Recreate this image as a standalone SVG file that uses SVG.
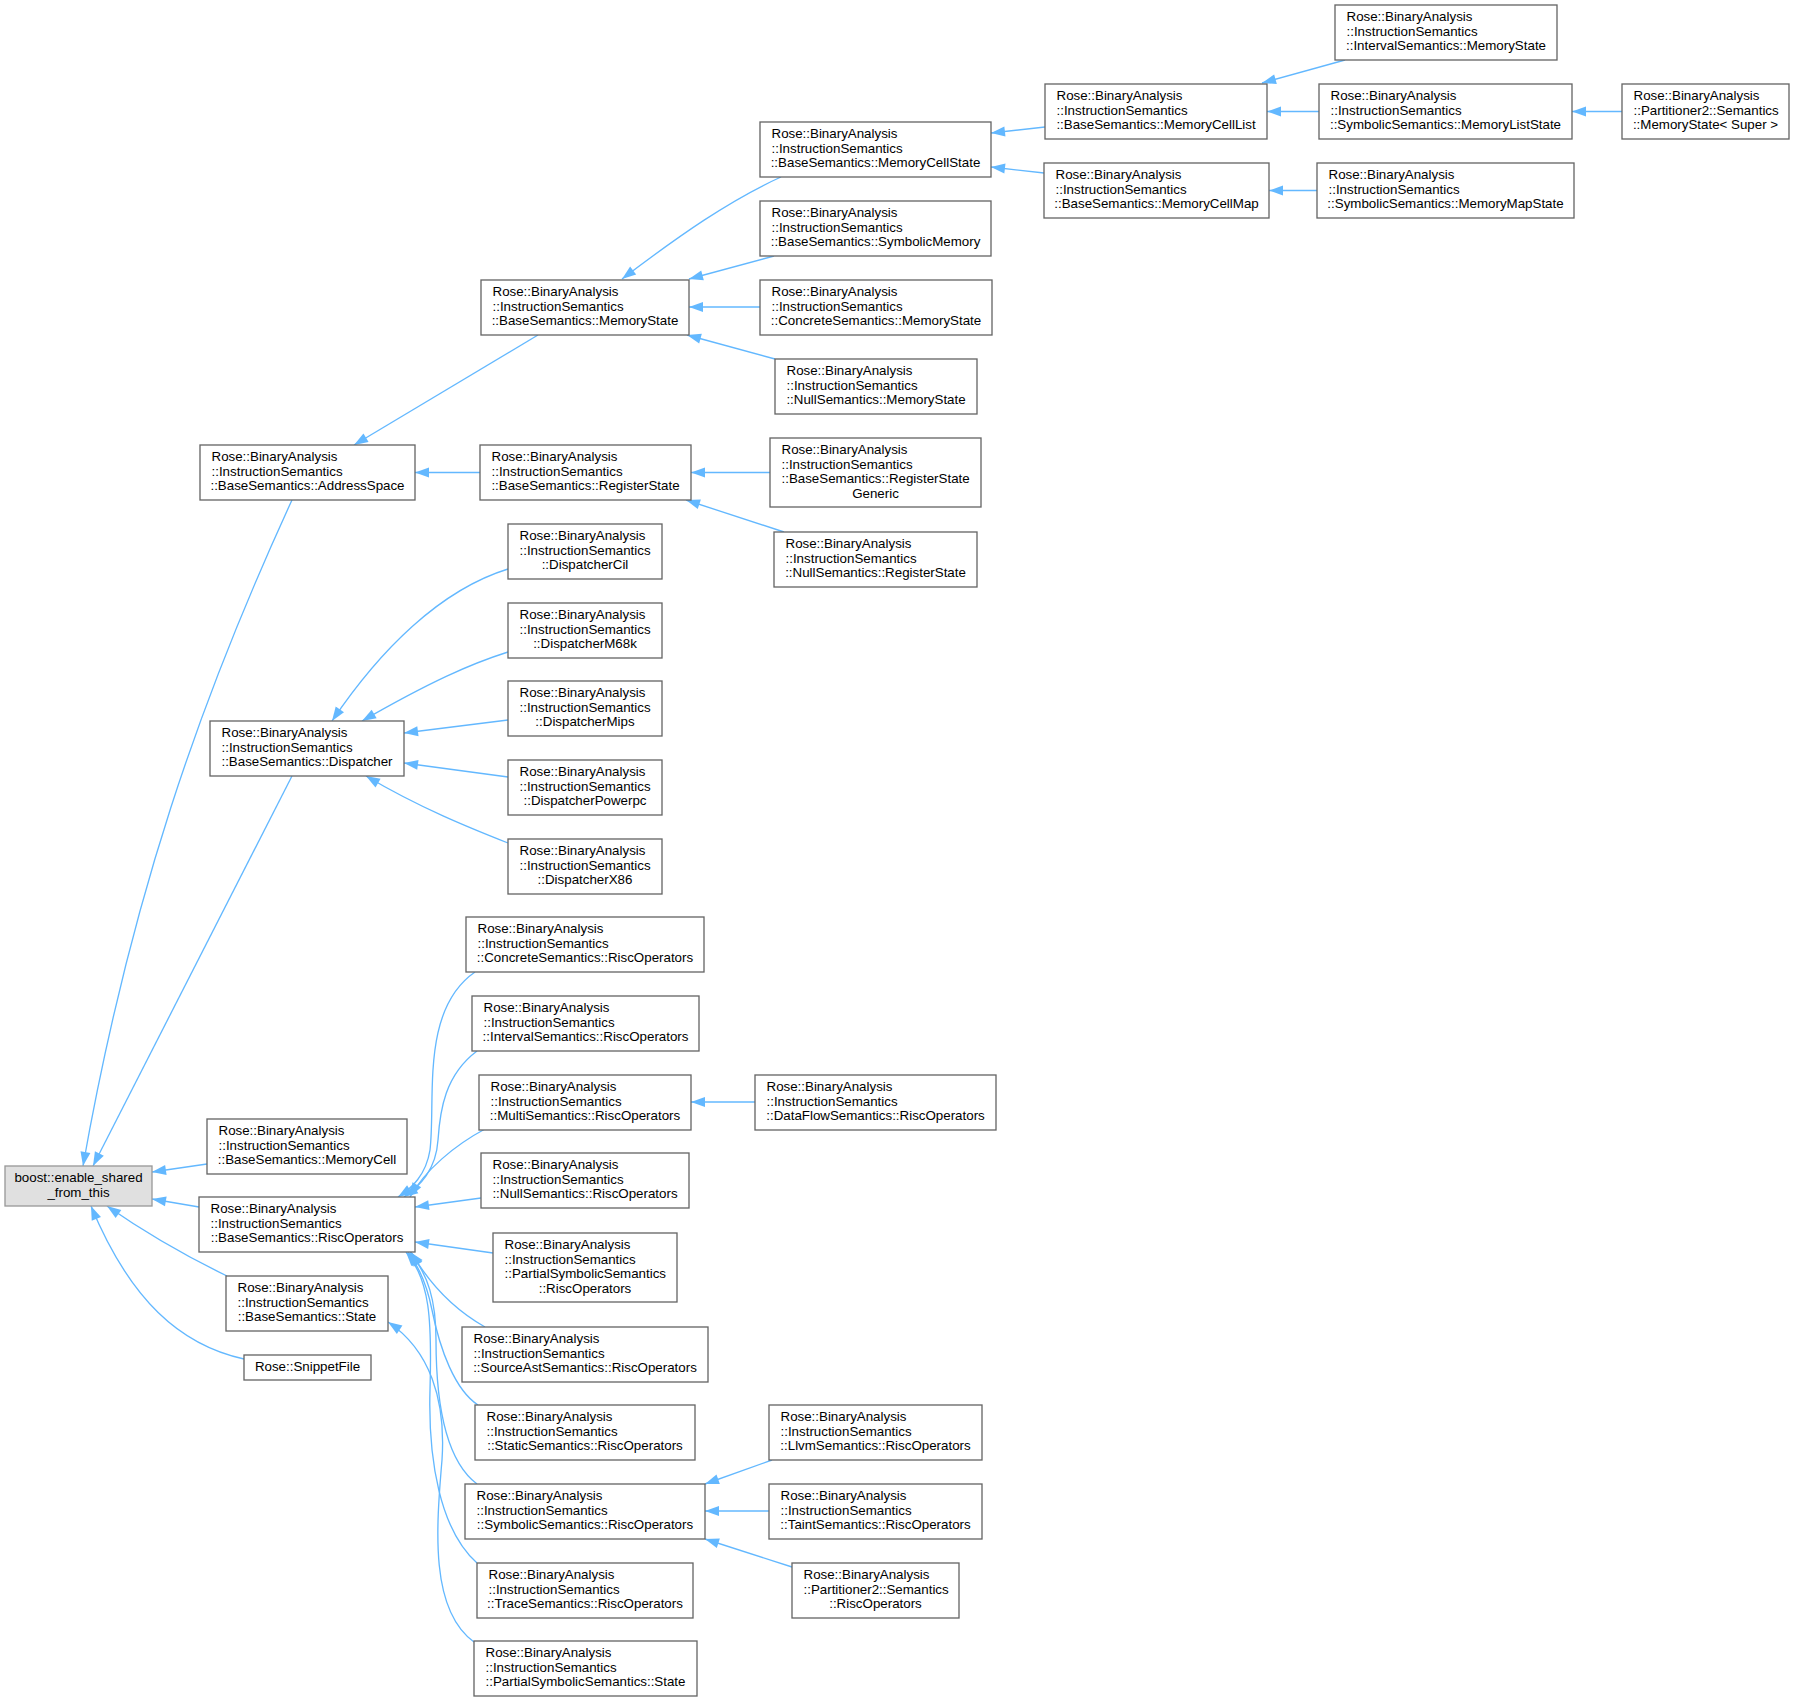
<svg xmlns="http://www.w3.org/2000/svg" width="1795" height="1701" viewBox="0 0 1795 1701">
<style>
.n rect{fill:#ffffff;stroke:#666666;stroke-width:1.33}
.root rect{fill:#e0e0e0;stroke:#999999;stroke-width:1.33}
text{font-family:"Liberation Sans",Arial,Helvetica,sans-serif;font-size:13.33px;fill:#000000}
.c{text-anchor:middle}
.e path{fill:none;stroke:#63b8ff;stroke-width:1.33;marker-end:url(#arr)}
</style>
<defs>
<marker id="arr" markerUnits="userSpaceOnUse" markerWidth="16" markerHeight="12" viewBox="0 -6 15 12" refX="14" refY="0" orient="auto">
<path d="M0,-5 L14,0 L0,5 Z" fill="#63b8ff"/>
</marker>
</defs>
<rect x="0" y="0" width="1795" height="1701" fill="#ffffff"/>
<g id="edges" class="e">
<path d="M1045,127 L991,133"/>
<path d="M1044,173 L991,167"/>
<path d="M1345,60 L1262,83"/>
<path d="M1319,111.5 L1267,111.5"/>
<path d="M1622,111.5 L1572,111.5"/>
<path d="M1317,190.5 L1269,190.5"/>
<path d="M781,177 C730,200 680,235 622,279"/>
<path d="M774,256 L689,279"/>
<path d="M760,307 L689,307"/>
<path d="M775,359 L687,335"/>
<path d="M538,335 L354,445"/>
<path d="M480,472.5 L415,472.5"/>
<path d="M770,472.5 L691,472.5"/>
<path d="M784,532 L686,500"/>
<path d="M508,569 C440,590 380,650 332,721"/>
<path d="M508,652 C470,664 430,682 362,721"/>
<path d="M508,720 L404,733"/>
<path d="M508,777 L404,763"/>
<path d="M508,843 C470,828 420,808 366,776"/>
<path d="M292,500 C200,700 130,900 83,1166"/>
<path d="M292,776 L93,1166"/>
<path d="M207,1164 L152,1172"/>
<path d="M199,1207 L152,1199"/>
<path d="M227,1276 C190,1258 150,1236 107,1206"/>
<path d="M244,1359 C180,1345 130,1300 91,1206"/>
<path d="M474,1642 C430,1610 436,1530 442,1460 C446,1400 430,1350 388,1322"/>
<path d="M475,972 C420,1010 436,1100 430,1150 C426,1175 412,1188 398,1197"/>
<path d="M477,1051 C445,1075 440,1110 438,1140 C436,1170 420,1186 404,1197"/>
<path d="M485,1129 C455,1145 425,1170 410,1197"/>
<path d="M755,1102 L691,1102"/>
<path d="M481,1198 L415,1207"/>
<path d="M493,1253 L415,1242"/>
<path d="M485,1327 C455,1310 430,1285 411,1252"/>
<path d="M478,1405 C455,1390 440,1350 432,1310 C427,1285 420,1268 408,1252"/>
<path d="M477,1484 C445,1460 436,1400 436,1340 C436,1300 428,1275 410,1252"/>
<path d="M477,1563 C440,1530 428,1460 430,1390 C432,1320 430,1280 406,1252"/>
<path d="M772,1460 L705,1484"/>
<path d="M769,1511 L705,1511"/>
<path d="M792,1567 L705,1539"/>
</g>
<g id="boost_enable_shared_from_this" class="root"><rect x="5" y="1166" width="147" height="40"/><text class="c" x="78.5" y="1182">boost::enable_shared</text><text class="c" x="78.5" y="1196.7">_from_this</text></g>
<g id="AddressSpace" class="n"><rect x="200" y="445" width="215" height="55"/><text x="211.5" y="461">Rose::BinaryAnalysis</text><text x="211.5" y="475.7">::InstructionSemantics</text><text class="c" x="307.5" y="490.3">::BaseSemantics::AddressSpace</text></g>
<g id="Dispatcher" class="n"><rect x="210" y="721" width="194" height="55"/><text x="221.5" y="737">Rose::BinaryAnalysis</text><text x="221.5" y="751.7">::InstructionSemantics</text><text class="c" x="307" y="766.3">::BaseSemantics::Dispatcher</text></g>
<g id="MemoryCell" class="n"><rect x="207" y="1119" width="200" height="55"/><text x="218.5" y="1135">Rose::BinaryAnalysis</text><text x="218.5" y="1149.7">::InstructionSemantics</text><text class="c" x="307" y="1164.3">::BaseSemantics::MemoryCell</text></g>
<g id="RiscOperators" class="n"><rect x="199" y="1197" width="216" height="55"/><text x="210.5" y="1213">Rose::BinaryAnalysis</text><text x="210.5" y="1227.7">::InstructionSemantics</text><text class="c" x="307" y="1242.3">::BaseSemantics::RiscOperators</text></g>
<g id="State" class="n"><rect x="226" y="1276" width="162" height="55"/><text x="237.5" y="1292">Rose::BinaryAnalysis</text><text x="237.5" y="1306.7">::InstructionSemantics</text><text class="c" x="307" y="1321.3">::BaseSemantics::State</text></g>
<g id="SnippetFile" class="n"><rect x="244" y="1355" width="127" height="25"/><text class="c" x="307.5" y="1371">Rose::SnippetFile</text></g>
<g id="MemoryState" class="n"><rect x="481" y="280" width="208" height="55"/><text x="492.5" y="296">Rose::BinaryAnalysis</text><text x="492.5" y="310.7">::InstructionSemantics</text><text class="c" x="585" y="325.3">::BaseSemantics::MemoryState</text></g>
<g id="RegisterState" class="n"><rect x="480" y="445" width="211" height="55"/><text x="491.5" y="461">Rose::BinaryAnalysis</text><text x="491.5" y="475.7">::InstructionSemantics</text><text class="c" x="585.5" y="490.3">::BaseSemantics::RegisterState</text></g>
<g id="DispatcherCil" class="n"><rect x="508" y="524" width="154" height="55"/><text x="519.5" y="540">Rose::BinaryAnalysis</text><text x="519.5" y="554.7">::InstructionSemantics</text><text class="c" x="585" y="569.3">::DispatcherCil</text></g>
<g id="DispatcherM68k" class="n"><rect x="508" y="603" width="154" height="55"/><text x="519.5" y="619">Rose::BinaryAnalysis</text><text x="519.5" y="633.7">::InstructionSemantics</text><text class="c" x="585" y="648.3">::DispatcherM68k</text></g>
<g id="DispatcherMips" class="n"><rect x="508" y="681" width="154" height="55"/><text x="519.5" y="697">Rose::BinaryAnalysis</text><text x="519.5" y="711.7">::InstructionSemantics</text><text class="c" x="585" y="726.3">::DispatcherMips</text></g>
<g id="DispatcherPowerpc" class="n"><rect x="508" y="760" width="154" height="55"/><text x="519.5" y="776">Rose::BinaryAnalysis</text><text x="519.5" y="790.7">::InstructionSemantics</text><text class="c" x="585" y="805.3">::DispatcherPowerpc</text></g>
<g id="DispatcherX86" class="n"><rect x="508" y="839" width="154" height="55"/><text x="519.5" y="855">Rose::BinaryAnalysis</text><text x="519.5" y="869.7">::InstructionSemantics</text><text class="c" x="585" y="884.3">::DispatcherX86</text></g>
<g id="ConcreteRiscOperators" class="n"><rect x="466" y="917" width="238" height="55"/><text x="477.5" y="933">Rose::BinaryAnalysis</text><text x="477.5" y="947.7">::InstructionSemantics</text><text class="c" x="585" y="962.3">::ConcreteSemantics::RiscOperators</text></g>
<g id="IntervalRiscOperators" class="n"><rect x="472" y="996" width="227" height="55"/><text x="483.5" y="1012">Rose::BinaryAnalysis</text><text x="483.5" y="1026.7">::InstructionSemantics</text><text class="c" x="585.5" y="1041.3">::IntervalSemantics::RiscOperators</text></g>
<g id="MultiRiscOperators" class="n"><rect x="479" y="1075" width="212" height="55"/><text x="490.5" y="1091">Rose::BinaryAnalysis</text><text x="490.5" y="1105.7">::InstructionSemantics</text><text class="c" x="585" y="1120.3">::MultiSemantics::RiscOperators</text></g>
<g id="NullRiscOperators" class="n"><rect x="481" y="1153" width="208" height="55"/><text x="492.5" y="1169">Rose::BinaryAnalysis</text><text x="492.5" y="1183.7">::InstructionSemantics</text><text class="c" x="585" y="1198.3">::NullSemantics::RiscOperators</text></g>
<g id="PartialSymbolicRiscOperators" class="n"><rect x="493" y="1233" width="184" height="69"/><text x="504.5" y="1249">Rose::BinaryAnalysis</text><text x="504.5" y="1263.7">::InstructionSemantics</text><text x="504.5" y="1278.3">::PartialSymbolicSemantics</text><text class="c" x="585" y="1293">::RiscOperators</text></g>
<g id="SourceAstRiscOperators" class="n"><rect x="462" y="1327" width="246" height="55"/><text x="473.5" y="1343">Rose::BinaryAnalysis</text><text x="473.5" y="1357.7">::InstructionSemantics</text><text class="c" x="585" y="1372.3">::SourceAstSemantics::RiscOperators</text></g>
<g id="StaticRiscOperators" class="n"><rect x="475" y="1405" width="220" height="55"/><text x="486.5" y="1421">Rose::BinaryAnalysis</text><text x="486.5" y="1435.7">::InstructionSemantics</text><text class="c" x="585" y="1450.3">::StaticSemantics::RiscOperators</text></g>
<g id="SymbolicRiscOperators" class="n"><rect x="465" y="1484" width="240" height="55"/><text x="476.5" y="1500">Rose::BinaryAnalysis</text><text x="476.5" y="1514.7">::InstructionSemantics</text><text class="c" x="585" y="1529.3">::SymbolicSemantics::RiscOperators</text></g>
<g id="TraceRiscOperators" class="n"><rect x="477" y="1563" width="216" height="55"/><text x="488.5" y="1579">Rose::BinaryAnalysis</text><text x="488.5" y="1593.7">::InstructionSemantics</text><text class="c" x="585" y="1608.3">::TraceSemantics::RiscOperators</text></g>
<g id="PartialSymbolicState" class="n"><rect x="474" y="1641" width="223" height="55"/><text x="485.5" y="1657">Rose::BinaryAnalysis</text><text x="485.5" y="1671.7">::InstructionSemantics</text><text class="c" x="585.5" y="1686.3">::PartialSymbolicSemantics::State</text></g>
<g id="MemoryCellState" class="n"><rect x="760" y="122" width="231" height="55"/><text x="771.5" y="138">Rose::BinaryAnalysis</text><text x="771.5" y="152.7">::InstructionSemantics</text><text class="c" x="875.5" y="167.3">::BaseSemantics::MemoryCellState</text></g>
<g id="SymbolicMemory" class="n"><rect x="760" y="201" width="231" height="55"/><text x="771.5" y="217">Rose::BinaryAnalysis</text><text x="771.5" y="231.7">::InstructionSemantics</text><text class="c" x="875.5" y="246.3">::BaseSemantics::SymbolicMemory</text></g>
<g id="ConcreteMemoryState" class="n"><rect x="760" y="280" width="232" height="55"/><text x="771.5" y="296">Rose::BinaryAnalysis</text><text x="771.5" y="310.7">::InstructionSemantics</text><text class="c" x="876" y="325.3">::ConcreteSemantics::MemoryState</text></g>
<g id="NullMemoryState" class="n"><rect x="775" y="359" width="202" height="55"/><text x="786.5" y="375">Rose::BinaryAnalysis</text><text x="786.5" y="389.7">::InstructionSemantics</text><text class="c" x="876" y="404.3">::NullSemantics::MemoryState</text></g>
<g id="RegisterStateGeneric" class="n"><rect x="770" y="438" width="211" height="69"/><text x="781.5" y="454">Rose::BinaryAnalysis</text><text x="781.5" y="468.7">::InstructionSemantics</text><text x="781.5" y="483.3">::BaseSemantics::RegisterState</text><text class="c" x="875.5" y="498">Generic</text></g>
<g id="NullRegisterState" class="n"><rect x="774" y="532" width="203" height="55"/><text x="785.5" y="548">Rose::BinaryAnalysis</text><text x="785.5" y="562.7">::InstructionSemantics</text><text class="c" x="875.5" y="577.3">::NullSemantics::RegisterState</text></g>
<g id="DataFlowRiscOperators" class="n"><rect x="755" y="1075" width="241" height="55"/><text x="766.5" y="1091">Rose::BinaryAnalysis</text><text x="766.5" y="1105.7">::InstructionSemantics</text><text class="c" x="875.5" y="1120.3">::DataFlowSemantics::RiscOperators</text></g>
<g id="LlvmRiscOperators" class="n"><rect x="769" y="1405" width="213" height="55"/><text x="780.5" y="1421">Rose::BinaryAnalysis</text><text x="780.5" y="1435.7">::InstructionSemantics</text><text class="c" x="875.5" y="1450.3">::LlvmSemantics::RiscOperators</text></g>
<g id="TaintRiscOperators" class="n"><rect x="769" y="1484" width="213" height="55"/><text x="780.5" y="1500">Rose::BinaryAnalysis</text><text x="780.5" y="1514.7">::InstructionSemantics</text><text class="c" x="875.5" y="1529.3">::TaintSemantics::RiscOperators</text></g>
<g id="Partitioner2RiscOperators" class="n"><rect x="792" y="1563" width="167" height="55"/><text x="803.5" y="1579">Rose::BinaryAnalysis</text><text x="803.5" y="1593.7">::Partitioner2::Semantics</text><text class="c" x="875.5" y="1608.3">::RiscOperators</text></g>
<g id="MemoryCellList" class="n"><rect x="1045" y="84" width="222" height="55"/><text x="1056.5" y="100">Rose::BinaryAnalysis</text><text x="1056.5" y="114.7">::InstructionSemantics</text><text class="c" x="1156" y="129.3">::BaseSemantics::MemoryCellList</text></g>
<g id="MemoryCellMap" class="n"><rect x="1044" y="163" width="225" height="55"/><text x="1055.5" y="179">Rose::BinaryAnalysis</text><text x="1055.5" y="193.7">::InstructionSemantics</text><text class="c" x="1156.5" y="208.3">::BaseSemantics::MemoryCellMap</text></g>
<g id="IntervalMemoryState" class="n"><rect x="1335" y="5" width="222" height="55"/><text x="1346.5" y="21">Rose::BinaryAnalysis</text><text x="1346.5" y="35.7">::InstructionSemantics</text><text class="c" x="1446" y="50.3">::IntervalSemantics::MemoryState</text></g>
<g id="MemoryListState" class="n"><rect x="1319" y="84" width="253" height="55"/><text x="1330.5" y="100">Rose::BinaryAnalysis</text><text x="1330.5" y="114.7">::InstructionSemantics</text><text class="c" x="1445.5" y="129.3">::SymbolicSemantics::MemoryListState</text></g>
<g id="MemoryMapState" class="n"><rect x="1317" y="163" width="257" height="55"/><text x="1328.5" y="179">Rose::BinaryAnalysis</text><text x="1328.5" y="193.7">::InstructionSemantics</text><text class="c" x="1445.5" y="208.3">::SymbolicSemantics::MemoryMapState</text></g>
<g id="Partitioner2MemoryState" class="n"><rect x="1622" y="84" width="167" height="55"/><text x="1633.5" y="100">Rose::BinaryAnalysis</text><text x="1633.5" y="114.7">::Partitioner2::Semantics</text><text class="c" x="1705.5" y="129.3">::MemoryState&lt; Super &gt;</text></g>
</svg>
